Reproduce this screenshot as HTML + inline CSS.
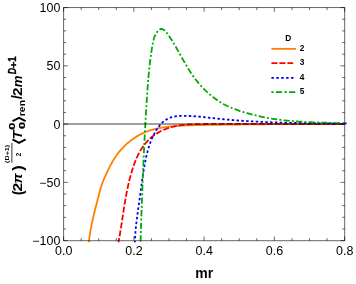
<!DOCTYPE html>
<html><head><meta charset="utf-8"><title>plot</title>
<style>
html,body{margin:0;padding:0;background:#fff;}
body{width:356px;height:284px;overflow:hidden;font-family:"Liberation Sans",sans-serif;}
svg{display:block;}
#w{width:356px;height:284px;will-change:transform;}
text{font-family:"Liberation Sans",sans-serif;fill:#000;}
</style></head><body>
<div id="w"><svg width="356" height="284" viewBox="0 0 356 284">
<rect x="0" y="0" width="356" height="284" fill="#ffffff"/>
<defs><clipPath id="cp"><rect x="63" y="6.5" width="282.0" height="235.8"/></clipPath></defs>

<g clip-path="url(#cp)" fill="none" stroke-width="1.8" stroke-linejoin="round">
<path d="M88.86 243.00 L88.96 241.98 L89.06 240.95 L89.17 239.93 L89.28 238.90 L89.41 237.88 L89.54 236.86 L89.68 235.83 L89.83 234.81 L89.98 233.78 L90.14 232.76 L90.31 231.73 L90.48 230.70 L90.66 229.68 L90.85 228.65 L91.04 227.63 L91.23 226.60 L91.43 225.58 L91.64 224.55 L91.85 223.53 L92.06 222.50 L92.28 221.48 L92.51 220.46 L92.73 219.43 L92.96 218.41 L93.20 217.39 L93.44 216.37 L93.68 215.35 L93.92 214.33 L94.17 213.31 L94.42 212.29 L94.67 211.27 L94.92 210.26 L95.18 209.24 L95.43 208.23 L95.69 207.21 L95.95 206.20 L96.21 205.19 L96.47 204.18 L96.73 203.17 L96.99 202.16 L97.26 201.15 L97.52 200.15 L97.78 199.14 L98.04 198.14 L98.30 197.14 L98.56 196.14 L98.82 195.14 L99.08 194.15 L99.34 193.15 L99.60 192.16 L99.87 191.17 L100.14 190.18 L100.41 189.19 L100.70 188.21 L100.99 187.23 L101.30 186.24 L101.62 185.27 L101.95 184.29 L102.29 183.31 L102.65 182.34 L103.02 181.37 L103.41 180.40 L103.80 179.44 L104.21 178.47 L104.62 177.51 L105.04 176.55 L105.47 175.60 L105.90 174.64 L106.34 173.69 L106.78 172.75 L107.23 171.80 L107.68 170.86 L108.13 169.92 L108.59 168.98 L109.06 168.05 L109.53 167.12 L110.00 166.20 L110.49 165.28 L110.98 164.37 L111.47 163.46 L111.98 162.56 L112.49 161.66 L113.01 160.77 L113.55 159.88 L114.09 159.01 L114.64 158.13 L115.20 157.27 L115.78 156.41 L116.36 155.56 L116.96 154.72 L117.57 153.88 L118.19 153.06 L118.82 152.24 L119.47 151.43 L120.14 150.63 L120.81 149.84 L121.51 149.06 L122.22 148.29 L122.94 147.53 L123.67 146.78 L124.42 146.04 L125.19 145.31 L125.96 144.59 L126.75 143.88 L127.54 143.19 L128.35 142.50 L129.17 141.83 L130.00 141.17 L130.84 140.53 L131.69 139.90 L132.54 139.28 L133.41 138.67 L134.28 138.08 L135.16 137.50 L136.04 136.93 L136.93 136.38 L137.83 135.85 L138.73 135.33 L139.64 134.83 L140.55 134.34 L141.47 133.87 L142.39 133.41 L143.32 132.97 L144.25 132.55 L145.19 132.15 L146.14 131.76 L147.08 131.39 L148.04 131.03 L148.99 130.70 L149.96 130.38 L150.92 130.07 L151.89 129.79 L152.87 129.52 L153.85 129.26 L154.83 129.02 L155.81 128.79 L156.80 128.57 L157.80 128.37 L158.80 128.17 L159.80 127.98 L160.80 127.81 L161.81 127.64 L162.82 127.47 L163.83 127.32 L164.85 127.17 L165.87 127.03 L166.89 126.90 L167.91 126.77 L168.94 126.65 L169.97 126.54 L171.00 126.43 L172.03 126.33 L173.07 126.23 L174.11 126.14 L175.14 126.06 L176.19 125.98 L177.23 125.90 L178.27 125.83 L179.32 125.77 L180.37 125.71 L181.42 125.65 L182.47 125.60 L183.52 125.55 L184.57 125.50 L185.62 125.46 L186.68 125.42 L187.73 125.38 L188.79 125.35 L189.84 125.31 L190.90 125.28 L191.95 125.26 L193.01 125.23 L194.07 125.21 L195.12 125.18 L196.18 125.16 L197.23 125.14 L198.29 125.12 L199.34 125.10 L200.40 125.08 L201.45 125.06 L202.50 125.04 L203.56 125.02 L204.61 125.00 L205.66 124.99 L206.71 124.97 L207.76 124.95 L208.81 124.93 L209.86 124.91 L210.91 124.90 L211.96 124.88 L213.01 124.86 L214.05 124.85 L215.10 124.83 L216.15 124.81 L217.19 124.80 L218.24 124.78 L219.28 124.76 L220.33 124.75 L221.37 124.73 L222.41 124.72 L223.46 124.70 L224.50 124.69 L225.54 124.67 L226.58 124.66 L227.62 124.64 L228.66 124.63 L229.71 124.61 L230.75 124.60 L231.79 124.59 L232.83 124.57 L233.86 124.56 L234.90 124.55 L235.94 124.53 L236.98 124.52 L238.02 124.51 L239.06 124.49 L240.09 124.48 L241.13 124.47 L242.17 124.46 L243.20 124.45 L244.24 124.43 L245.28 124.42 L246.31 124.41 L247.35 124.40 L248.38 124.39 L249.42 124.38 L250.45 124.37 L251.49 124.36 L252.52 124.35 L253.56 124.34 L254.59 124.33 L255.63 124.32 L256.66 124.31 L257.69 124.30 L258.73 124.29 L259.76 124.28 L260.80 124.27 L261.83 124.26 L262.86 124.25 L263.90 124.24 L264.93 124.23 L265.96 124.23 L266.99 124.22 L268.03 124.21 L269.06 124.20 L270.09 124.19 L271.13 124.19 L272.16 124.18 L273.19 124.17 L274.23 124.16 L275.26 124.16 L276.29 124.15 L277.33 124.14 L278.36 124.14 L279.39 124.13 L280.43 124.13 L281.46 124.12 L282.49 124.11 L283.53 124.11 L284.56 124.10 L285.59 124.10 L286.63 124.09 L287.66 124.09 L288.70 124.08 L289.73 124.08 L290.76 124.07 L291.80 124.07 L292.83 124.06 L293.87 124.06 L294.90 124.05 L295.94 124.05 L296.97 124.05 L298.01 124.04 L299.05 124.04 L300.08 124.04 L301.12 124.03 L302.16 124.03 L303.19 124.03 L304.23 124.02 L305.27 124.02 L306.30 124.02 L307.34 124.02 L308.38 124.01 L309.42 124.01 L310.46 124.01 L311.50 124.01 L312.54 124.01 L313.58 124.00 L314.62 124.00 L315.66 124.00 L316.70 124.00 L317.74 124.00 L318.78 124.00 L319.83 124.00 L320.87 124.00 L321.91 124.00 L322.96 124.00 L324.00 124.00 L325.04 124.00 L326.09 124.00 L327.13 124.00 L328.18 124.00 L329.23 124.00 L330.27 124.00 L331.32 124.00 L332.37 124.00 L333.42 124.00 L334.47 124.00 L335.52 124.00 L336.57 124.00 L337.62 124.00 L338.67 124.00 L339.72 124.01 L340.77 124.01 L341.82 124.01 L342.88 124.01 L343.93 124.01 L344.99 124.02 L346.04 124.02" stroke="#ff8000"/>
<path d="M118.34 242.97 L118.53 242.02 L118.71 241.07 L118.88 240.11 L119.06 239.16 L119.23 238.21 L119.40 237.25 L119.57 236.30 L119.73 235.34 L119.89 234.39 L120.05 233.43 L120.21 232.48 L120.37 231.52 L120.53 230.56 L120.68 229.61 L120.83 228.65 L120.98 227.69 L121.13 226.73 L121.28 225.78 L121.43 224.82 L121.58 223.86 L121.73 222.90 L121.87 221.94 L122.02 220.98 L122.16 220.02 L122.31 219.06 L122.45 218.10 L122.60 217.14 L122.74 216.18 L122.89 215.22 L123.03 214.26 L123.18 213.30 L123.33 212.34 L123.47 211.38 L123.62 210.42 L123.77 209.46 L123.92 208.50 L124.07 207.54 L124.23 206.58 L124.38 205.62 L124.54 204.67 L124.69 203.71 L124.85 202.75 L125.01 201.79 L125.18 200.83 L125.34 199.87 L125.51 198.91 L125.68 197.96 L125.85 197.00 L126.02 196.04 L126.20 195.08 L126.38 194.13 L126.56 193.17 L126.75 192.21 L126.94 191.26 L127.13 190.30 L127.33 189.35 L127.53 188.39 L127.73 187.44 L127.94 186.49 L128.15 185.53 L128.36 184.58 L128.58 183.63 L128.80 182.68 L129.03 181.73 L129.26 180.78 L129.50 179.83 L129.74 178.88 L129.99 177.93 L130.24 176.99 L130.49 176.04 L130.75 175.09 L131.02 174.15 L131.29 173.20 L131.57 172.26 L131.85 171.31 L132.14 170.37 L132.43 169.43 L132.73 168.49 L133.04 167.55 L133.35 166.61 L133.67 165.68 L134.00 164.75 L134.33 163.81 L134.67 162.89 L135.03 161.96 L135.38 161.05 L135.75 160.13 L136.13 159.22 L136.52 158.32 L136.91 157.42 L137.32 156.52 L137.74 155.64 L138.17 154.76 L138.61 153.88 L139.06 153.02 L139.52 152.16 L139.99 151.31 L140.48 150.47 L140.98 149.64 L141.49 148.82 L142.02 148.00 L142.56 147.20 L143.11 146.41 L143.68 145.63 L144.25 144.86 L144.85 144.10 L145.45 143.36 L146.07 142.62 L146.70 141.90 L147.35 141.20 L148.01 140.50 L148.68 139.82 L149.36 139.16 L150.06 138.51 L150.77 137.87 L151.49 137.26 L152.23 136.65 L152.98 136.07 L153.74 135.49 L154.51 134.94 L155.30 134.40 L156.09 133.87 L156.90 133.36 L157.72 132.87 L158.54 132.39 L159.38 131.93 L160.23 131.48 L161.08 131.05 L161.95 130.63 L162.82 130.23 L163.70 129.84 L164.59 129.47 L165.48 129.11 L166.39 128.76 L167.29 128.43 L168.21 128.12 L169.13 127.82 L170.06 127.53 L170.99 127.26 L171.92 127.00 L172.86 126.75 L173.81 126.52 L174.76 126.30 L175.71 126.10 L176.66 125.91 L177.62 125.73 L178.58 125.56 L179.54 125.41 L180.51 125.27 L181.47 125.14 L182.44 125.02 L183.41 124.91 L184.39 124.81 L185.36 124.72 L186.34 124.64 L187.31 124.57 L188.29 124.50 L189.27 124.44 L190.25 124.39 L191.23 124.34 L192.22 124.30 L193.20 124.26 L194.18 124.23 L195.17 124.20 L196.15 124.17 L197.13 124.15 L198.12 124.13 L199.10 124.11 L200.08 124.09 L201.07 124.08 L202.05 124.06 L203.03 124.04 L204.01 124.03 L205.00 124.01 L205.98 124.00 L206.96 123.98 L207.94 123.97 L208.92 123.96 L209.90 123.95 L210.88 123.94 L211.86 123.93 L212.84 123.92 L213.81 123.91 L214.79 123.90 L215.77 123.89 L216.75 123.88 L217.72 123.87 L218.70 123.87 L219.68 123.86 L220.65 123.86 L221.63 123.85 L222.60 123.84 L223.58 123.84 L224.55 123.84 L225.53 123.83 L226.50 123.83 L227.48 123.83 L228.45 123.82 L229.42 123.82 L230.40 123.82 L231.37 123.82 L232.34 123.82 L233.32 123.82 L234.29 123.82 L235.26 123.82 L236.23 123.82 L237.20 123.82 L238.18 123.82 L239.15 123.83 L240.12 123.83 L241.09 123.83 L242.06 123.83 L243.03 123.84 L244.00 123.84 L244.97 123.84 L245.94 123.85 L246.91 123.85 L247.88 123.85 L248.85 123.86 L249.82 123.86 L250.79 123.87 L251.76 123.87 L252.73 123.88 L253.70 123.89 L254.67 123.89 L255.63 123.90 L256.60 123.90 L257.57 123.91 L258.54 123.92 L259.51 123.92 L260.48 123.93 L261.44 123.94 L262.41 123.94 L263.38 123.95 L264.35 123.96 L265.32 123.96 L266.29 123.97 L267.25 123.98 L268.22 123.98 L269.19 123.99 L270.16 124.00 L271.12 124.01 L272.09 124.01 L273.06 124.02 L274.03 124.03 L275.00 124.04 L275.96 124.04 L276.93 124.05 L277.90 124.06 L278.87 124.07 L279.84 124.07 L280.80 124.08 L281.77 124.09 L282.74 124.09 L283.71 124.10 L284.68 124.11 L285.64 124.11 L286.61 124.12 L287.58 124.13 L288.55 124.13 L289.52 124.14 L290.49 124.15 L291.45 124.15 L292.42 124.16 L293.39 124.16 L294.36 124.17 L295.33 124.17 L296.30 124.18 L297.27 124.18 L298.24 124.19 L299.21 124.19 L300.18 124.20 L301.15 124.20 L302.12 124.20 L303.09 124.21 L304.06 124.21 L305.03 124.21 L306.00 124.21 L306.97 124.22 L307.94 124.22 L308.91 124.22 L309.89 124.22 L310.86 124.22 L311.83 124.22 L312.80 124.22 L313.77 124.22 L314.75 124.22 L315.72 124.22 L316.69 124.22 L317.67 124.21 L318.64 124.21 L319.61 124.21 L320.59 124.21 L321.56 124.20 L322.54 124.20 L323.51 124.19 L324.49 124.19 L325.46 124.18 L326.44 124.18 L327.42 124.17 L328.39 124.16 L329.37 124.16 L330.35 124.15 L331.32 124.14 L332.30 124.13 L333.28 124.12 L334.26 124.11 L335.24 124.10 L336.22 124.09 L337.19 124.08 L338.17 124.06 L339.15 124.05 L340.14 124.04 L341.12 124.02 L342.10 124.01 L343.08 123.99 L344.06 123.98 L345.04 123.96 L346.03 123.94" stroke="#ff0000" stroke-dasharray="6 2" stroke-dashoffset="1.16"/>
<path d="M134.88 243.02 L134.90 242.04 L134.93 241.06 L134.97 240.08 L135.01 239.10 L135.06 238.12 L135.11 237.14 L135.16 236.17 L135.23 235.19 L135.29 234.21 L135.36 233.24 L135.44 232.26 L135.52 231.29 L135.60 230.31 L135.69 229.34 L135.78 228.37 L135.88 227.39 L135.98 226.42 L136.08 225.45 L136.19 224.48 L136.29 223.51 L136.41 222.54 L136.52 221.57 L136.64 220.60 L136.76 219.63 L136.88 218.66 L137.00 217.69 L137.13 216.72 L137.26 215.75 L137.38 214.79 L137.52 213.82 L137.65 212.85 L137.78 211.89 L137.92 210.92 L138.05 209.95 L138.19 208.99 L138.32 208.02 L138.46 207.06 L138.60 206.10 L138.74 205.13 L138.88 204.17 L139.01 203.20 L139.15 202.24 L139.29 201.28 L139.43 200.32 L139.56 199.35 L139.70 198.39 L139.83 197.43 L139.97 196.47 L140.10 195.51 L140.23 194.54 L140.36 193.58 L140.49 192.62 L140.61 191.66 L140.74 190.70 L140.87 189.74 L140.99 188.78 L141.12 187.82 L141.25 186.86 L141.37 185.90 L141.50 184.94 L141.63 183.98 L141.76 183.02 L141.89 182.06 L142.02 181.10 L142.15 180.14 L142.28 179.18 L142.42 178.22 L142.56 177.27 L142.69 176.31 L142.84 175.35 L142.98 174.39 L143.13 173.43 L143.27 172.47 L143.43 171.51 L143.58 170.55 L143.74 169.59 L143.90 168.64 L144.07 167.68 L144.23 166.72 L144.41 165.76 L144.58 164.80 L144.76 163.84 L144.95 162.88 L145.14 161.92 L145.33 160.96 L145.53 160.00 L145.74 159.04 L145.95 158.08 L146.17 157.12 L146.39 156.16 L146.61 155.20 L146.85 154.24 L147.09 153.29 L147.34 152.33 L147.59 151.37 L147.85 150.41 L148.12 149.46 L148.40 148.51 L148.68 147.56 L148.98 146.61 L149.28 145.67 L149.60 144.73 L149.92 143.79 L150.25 142.86 L150.60 141.94 L150.95 141.01 L151.32 140.09 L151.69 139.18 L152.08 138.27 L152.48 137.37 L152.90 136.48 L153.32 135.59 L153.76 134.71 L154.21 133.84 L154.68 132.97 L155.16 132.11 L155.65 131.26 L156.16 130.42 L156.69 129.58 L157.23 128.76 L157.78 127.95 L158.35 127.16 L158.94 126.38 L159.54 125.62 L160.16 124.87 L160.80 124.16 L161.46 123.46 L162.13 122.79 L162.82 122.14 L163.53 121.53 L164.26 120.95 L165.01 120.39 L165.78 119.88 L166.57 119.40 L167.38 118.95 L168.20 118.54 L169.05 118.17 L169.91 117.82 L170.78 117.51 L171.67 117.23 L172.58 116.98 L173.50 116.76 L174.43 116.56 L175.37 116.39 L176.32 116.24 L177.28 116.12 L178.24 116.02 L179.22 115.93 L180.20 115.87 L181.18 115.82 L182.17 115.79 L183.16 115.78 L184.16 115.78 L185.16 115.79 L186.16 115.81 L187.16 115.85 L188.16 115.89 L189.16 115.94 L190.16 116.00 L191.15 116.06 L192.15 116.12 L193.14 116.19 L194.13 116.27 L195.12 116.34 L196.11 116.42 L197.09 116.51 L198.08 116.59 L199.06 116.68 L200.04 116.77 L201.02 116.87 L202.00 116.96 L202.98 117.06 L203.95 117.16 L204.93 117.26 L205.90 117.37 L206.87 117.47 L207.84 117.58 L208.81 117.68 L209.78 117.79 L210.75 117.89 L211.72 118.00 L212.69 118.11 L213.66 118.21 L214.62 118.32 L215.59 118.43 L216.56 118.53 L217.53 118.64 L218.49 118.74 L219.46 118.84 L220.43 118.94 L221.39 119.04 L222.36 119.14 L223.33 119.23 L224.30 119.32 L225.26 119.42 L226.23 119.51 L227.20 119.60 L228.17 119.68 L229.14 119.77 L230.11 119.85 L231.08 119.94 L232.05 120.02 L233.01 120.10 L233.98 120.18 L234.95 120.25 L235.92 120.33 L236.89 120.40 L237.86 120.48 L238.83 120.55 L239.80 120.62 L240.78 120.69 L241.75 120.75 L242.72 120.82 L243.69 120.89 L244.66 120.95 L245.63 121.01 L246.60 121.07 L247.57 121.13 L248.54 121.19 L249.52 121.25 L250.49 121.31 L251.46 121.36 L252.43 121.41 L253.40 121.47 L254.38 121.52 L255.35 121.57 L256.32 121.62 L257.30 121.67 L258.27 121.72 L259.24 121.76 L260.21 121.81 L261.19 121.85 L262.16 121.90 L263.13 121.94 L264.11 121.98 L265.08 122.02 L266.05 122.06 L267.03 122.10 L268.00 122.14 L268.98 122.18 L269.95 122.21 L270.92 122.25 L271.90 122.28 L272.87 122.32 L273.85 122.35 L274.82 122.38 L275.79 122.41 L276.77 122.44 L277.74 122.47 L278.72 122.50 L279.69 122.53 L280.67 122.56 L281.64 122.59 L282.62 122.61 L283.59 122.64 L284.57 122.67 L285.54 122.69 L286.52 122.72 L287.49 122.74 L288.47 122.76 L289.44 122.79 L290.42 122.81 L291.39 122.83 L292.37 122.85 L293.34 122.87 L294.32 122.89 L295.29 122.91 L296.27 122.93 L297.25 122.95 L298.22 122.97 L299.20 122.99 L300.17 123.00 L301.15 123.02 L302.12 123.04 L303.10 123.06 L304.07 123.07 L305.05 123.09 L306.02 123.11 L307.00 123.12 L307.98 123.14 L308.95 123.15 L309.93 123.17 L310.90 123.18 L311.88 123.20 L312.85 123.21 L313.83 123.23 L314.80 123.24 L315.78 123.26 L316.76 123.27 L317.73 123.28 L318.71 123.30 L319.68 123.31 L320.66 123.33 L321.63 123.34 L322.61 123.35 L323.58 123.37 L324.56 123.38 L325.53 123.40 L326.51 123.41 L327.48 123.43 L328.46 123.44 L329.43 123.46 L330.41 123.47 L331.38 123.49 L332.36 123.50 L333.33 123.52 L334.31 123.53 L335.28 123.55 L336.26 123.56 L337.23 123.58 L338.21 123.60 L339.18 123.61 L340.16 123.63 L341.13 123.65 L342.10 123.66 L343.08 123.68 L344.05 123.70 L345.03 123.72 L346.00 123.74" stroke="#0000ff" stroke-dasharray="2.5 2.3" stroke-dashoffset="0.17"/>
<path d="M140.51 243.00 L140.56 241.61 L140.60 240.23 L140.64 238.85 L140.69 237.46 L140.73 236.08 L140.78 234.69 L140.82 233.31 L140.86 231.92 L140.91 230.54 L140.95 229.15 L141.00 227.77 L141.04 226.38 L141.09 225.00 L141.13 223.61 L141.18 222.23 L141.23 220.84 L141.27 219.46 L141.32 218.07 L141.37 216.69 L141.41 215.30 L141.46 213.92 L141.51 212.53 L141.55 211.14 L141.60 209.76 L141.65 208.37 L141.70 206.99 L141.75 205.60 L141.80 204.22 L141.85 202.83 L141.90 201.45 L141.95 200.06 L142.00 198.68 L142.05 197.29 L142.10 195.91 L142.15 194.52 L142.20 193.14 L142.25 191.75 L142.31 190.36 L142.36 188.98 L142.41 187.59 L142.47 186.21 L142.52 184.82 L142.57 183.44 L142.63 182.05 L142.68 180.67 L142.74 179.28 L142.80 177.90 L142.85 176.51 L142.91 175.13 L142.97 173.74 L143.02 172.36 L143.08 170.97 L143.14 169.58 L143.20 168.20 L143.26 166.81 L143.32 165.43 L143.38 164.04 L143.44 162.66 L143.50 161.27 L143.56 159.89 L143.62 158.50 L143.69 157.12 L143.75 155.73 L143.81 154.35 L143.88 152.96 L143.94 151.58 L144.01 150.20 L144.07 148.81 L144.14 147.43 L144.21 146.04 L144.27 144.66 L144.34 143.27 L144.41 141.89 L144.48 140.50 L144.55 139.12 L144.62 137.73 L144.69 136.35 L144.76 134.97 L144.83 133.58 L144.91 132.20 L144.98 130.81 L145.05 129.43 L145.13 128.05 L145.20 126.66 L145.28 125.28 L145.35 123.89 L145.43 122.51 L145.51 121.13 L145.59 119.74 L145.67 118.36 L145.75 116.98 L145.83 115.59 L145.91 114.21 L145.99 112.83 L146.07 111.44 L146.15 110.06 L146.24 108.68 L146.32 107.29 L146.41 105.91 L146.49 104.53 L146.58 103.15 L146.67 101.76 L146.75 100.38 L146.84 99.00 L146.93 97.62 L147.02 96.23 L147.11 94.85 L147.21 93.47 L147.30 92.09 L147.40 90.71 L147.49 89.33 L147.59 87.94 L147.70 86.56 L147.80 85.18 L147.91 83.80 L148.01 82.42 L148.13 81.04 L148.24 79.66 L148.36 78.28 L148.48 76.90 L148.60 75.52 L148.73 74.14 L148.86 72.76 L148.99 71.38 L149.13 70.00 L149.27 68.62 L149.42 67.25 L149.57 65.87 L149.72 64.49 L149.88 63.11 L150.04 61.74 L150.21 60.36 L150.39 58.98 L150.57 57.61 L150.75 56.23 L150.94 54.86 L151.14 53.48 L151.34 52.11 L151.54 50.73 L151.76 49.36 L151.98 47.98 L152.20 46.61 L152.43 45.24 L152.68 43.86 L152.94 42.49 L153.23 41.13 L153.57 39.77 L153.96 38.42 L154.42 37.08 L154.96 35.75 L155.59 34.44 L156.33 33.14 L157.17 31.88 L158.10 30.74 L159.10 29.80 L160.16 29.15 L161.24 28.89 L162.33 29.07 L163.41 29.62 L164.47 30.43 L165.47 31.39 L166.40 32.42 L167.29 33.51 L168.13 34.64 L168.94 35.79 L169.73 36.96 L170.50 38.14 L171.26 39.32 L172.01 40.51 L172.75 41.71 L173.48 42.91 L174.20 44.11 L174.91 45.32 L175.61 46.52 L176.31 47.74 L177.00 48.95 L177.69 50.16 L178.37 51.38 L179.05 52.60 L179.72 53.81 L180.40 55.03 L181.08 56.24 L181.75 57.46 L182.43 58.67 L183.11 59.88 L183.79 61.09 L184.48 62.30 L185.17 63.50 L185.87 64.70 L186.57 65.89 L187.28 67.08 L188.00 68.26 L188.73 69.44 L189.47 70.61 L190.22 71.78 L190.98 72.94 L191.75 74.09 L192.54 75.23 L193.34 76.36 L194.16 77.49 L194.99 78.60 L195.84 79.71 L196.70 80.80 L197.57 81.89 L198.46 82.96 L199.37 84.02 L200.28 85.07 L201.21 86.11 L202.16 87.13 L203.12 88.14 L204.09 89.14 L205.07 90.12 L206.07 91.09 L207.08 92.04 L208.11 92.98 L209.15 93.90 L210.20 94.80 L211.26 95.69 L212.34 96.56 L213.43 97.41 L214.53 98.24 L215.64 99.05 L216.77 99.85 L217.91 100.62 L219.06 101.38 L220.22 102.11 L221.39 102.82 L222.58 103.51 L223.77 104.18 L224.98 104.82 L226.20 105.45 L227.43 106.05 L228.68 106.62 L229.93 107.18 L231.19 107.72 L232.46 108.24 L233.74 108.75 L235.03 109.23 L236.32 109.71 L237.63 110.17 L238.94 110.61 L240.25 111.04 L241.58 111.46 L242.91 111.88 L244.24 112.28 L245.58 112.67 L246.93 113.06 L248.28 113.44 L249.63 113.81 L250.98 114.18 L252.34 114.54 L253.70 114.90 L255.07 115.24 L256.43 115.58 L257.80 115.90 L259.17 116.22 L260.53 116.53 L261.90 116.82 L263.27 117.11 L264.63 117.38 L266.00 117.65 L267.37 117.91 L268.74 118.15 L270.10 118.39 L271.47 118.62 L272.84 118.84 L274.21 119.05 L275.58 119.25 L276.94 119.44 L278.31 119.63 L279.68 119.81 L281.05 119.98 L282.42 120.14 L283.79 120.30 L285.16 120.45 L286.53 120.59 L287.90 120.72 L289.27 120.85 L290.65 120.98 L292.02 121.09 L293.39 121.21 L294.76 121.31 L296.14 121.41 L297.51 121.51 L298.88 121.60 L300.26 121.69 L301.63 121.77 L303.01 121.85 L304.39 121.92 L305.76 121.99 L307.14 122.06 L308.52 122.12 L309.90 122.19 L311.28 122.24 L312.66 122.30 L314.04 122.35 L315.42 122.40 L316.80 122.45 L318.18 122.50 L319.57 122.54 L320.95 122.59 L322.34 122.63 L323.72 122.67 L325.11 122.71 L326.49 122.76 L327.88 122.80 L329.27 122.84 L330.66 122.88 L332.05 122.92 L333.44 122.96 L334.84 123.00 L336.23 123.05 L337.62 123.09 L339.02 123.14 L340.41 123.19 L341.81 123.24 L343.21 123.29 L344.61 123.34 L346.01 123.40" stroke="#00aa00" stroke-dasharray="6.2 2.2 2 2.2" stroke-dashoffset="11.05"/>
</g>
<line x1="63.5" y1="123.9" x2="344.5" y2="123.9" stroke="#000" stroke-opacity="0.5" stroke-width="1.5"/>
<rect x="344.8" y="122.5" width="1.8" height="1.8" fill="#0000ff"/>
<g stroke="#000" stroke-opacity="0.6" stroke-width="1" fill="none">
<rect x="63.6" y="7.55" width="281.1" height="233.15" stroke-width="1"/>
<path d="M63.60 240.7v-4.2M63.60 7.55v4.2M81.16 240.7v-2.5M81.16 7.55v2.5M98.72 240.7v-2.5M98.72 7.55v2.5M116.29 240.7v-2.5M116.29 7.55v2.5M133.85 240.7v-4.2M133.85 7.55v4.2M151.41 240.7v-2.5M151.41 7.55v2.5M168.97 240.7v-2.5M168.97 7.55v2.5M186.54 240.7v-2.5M186.54 7.55v2.5M204.10 240.7v-4.2M204.10 7.55v4.2M221.66 240.7v-2.5M221.66 7.55v2.5M239.22 240.7v-2.5M239.22 7.55v2.5M256.79 240.7v-2.5M256.79 7.55v2.5M274.35 240.7v-4.2M274.35 7.55v4.2M291.91 240.7v-2.5M291.91 7.55v2.5M309.48 240.7v-2.5M309.48 7.55v2.5M327.04 240.7v-2.5M327.04 7.55v2.5M344.60 240.7v-4.2M344.60 7.55v4.2M63.6 240.60h4.2M344.7 240.60h-4.2M63.6 228.95h2.5M344.7 228.95h-2.5M63.6 217.30h2.5M344.7 217.30h-2.5M63.6 205.65h2.5M344.7 205.65h-2.5M63.6 194.00h2.5M344.7 194.00h-2.5M63.6 182.35h4.2M344.7 182.35h-4.2M63.6 170.70h2.5M344.7 170.70h-2.5M63.6 159.05h2.5M344.7 159.05h-2.5M63.6 147.40h2.5M344.7 147.40h-2.5M63.6 135.75h2.5M344.7 135.75h-2.5M63.6 124.10h4.2M344.7 124.10h-4.2M63.6 112.45h2.5M344.7 112.45h-2.5M63.6 100.80h2.5M344.7 100.80h-2.5M63.6 89.15h2.5M344.7 89.15h-2.5M63.6 77.50h2.5M344.7 77.50h-2.5M63.6 65.85h4.2M344.7 65.85h-4.2M63.6 54.20h2.5M344.7 54.20h-2.5M63.6 42.55h2.5M344.7 42.55h-2.5M63.6 30.90h2.5M344.7 30.90h-2.5M63.6 19.25h2.5M344.7 19.25h-2.5M63.6 7.60h4.2M344.7 7.60h-4.2" stroke-width="1"/>
</g>
<g font-size="12px">
<text transform="translate(60.4,12.00) scale(1.04,1)" text-anchor="end">100</text>
<text transform="translate(60.4,70.25) scale(1.04,1)" text-anchor="end">50</text>
<text transform="translate(60.4,128.50) scale(1.04,1)" text-anchor="end">0</text>
<text transform="translate(60.4,186.75) scale(1.04,1)" text-anchor="end">−50</text>
<text transform="translate(60.4,245.00) scale(1.04,1)" text-anchor="end">−100</text>
<text transform="translate(63.70,254.8) scale(1.04,1)" text-anchor="middle">0.0</text>
<text transform="translate(133.95,254.8) scale(1.04,1)" text-anchor="middle">0.2</text>
<text transform="translate(204.20,254.8) scale(1.04,1)" text-anchor="middle">0.4</text>
<text transform="translate(274.45,254.8) scale(1.04,1)" text-anchor="middle">0.6</text>
<text transform="translate(344.70,254.8) scale(1.04,1)" text-anchor="middle">0.8</text>
</g>
<text x="204.2" y="277.7" text-anchor="middle" font-size="14px" font-weight="bold">mr</text>
<g id="ylabel">
<text transform="translate(22.98,195.27) rotate(-90) scale(1.032,1.085)" font-size="14px" font-weight="bold">(</text>
<text transform="translate(22.10,191.56) rotate(-90) scale(1.126,0.964)" font-size="14px" font-weight="bold">2</text>
<text transform="translate(21.99,183.51) rotate(-90) scale(1.029,0.893)" font-size="14px" font-weight="bold" font-style="italic">π</text>
<text transform="translate(22.98,170.70) rotate(-90) scale(1.175,1.085)" font-size="14px" font-weight="bold">)</text>
<text transform="translate(9.32,162.91) rotate(-90) scale(1.105,0.784)" font-size="6.5px" font-weight="bold">(D+1)</text>
<text transform="translate(21.10,156.34) rotate(-90) scale(0.960,1.067)" font-size="6.5px" font-weight="bold">2</text>
<text transform="translate(22.10,139.57) rotate(-90) scale(1.071,0.977)" font-size="14px" font-weight="bold" font-style="italic">T</text>
<text transform="translate(15.09,129.71) rotate(-90) scale(1.356,0.919)" font-size="9.5px" font-weight="bold" stroke="#000" stroke-width="0.25">0</text>
<text transform="translate(24.89,129.01) rotate(-90) scale(1.356,0.919)" font-size="9.5px" font-weight="bold" stroke="#000" stroke-width="0.25">0</text>
<text transform="translate(24.68,116.19) rotate(-90) scale(1.096,0.952)" font-size="9.5px" font-weight="bold">ren</text>
<text transform="translate(22.44,99.20) rotate(-90) scale(1.050,1.031)" font-size="14px" font-weight="bold">/</text>
<text transform="translate(22.10,95.95) rotate(-90) scale(1.096,0.964)" font-size="14px" font-weight="bold">2</text>
<text transform="translate(22.10,87.34) rotate(-90) scale(0.946,0.947)" font-size="14px" font-weight="bold" font-style="italic">m</text>
<text transform="translate(16.30,74.32) rotate(-90) scale(0.875,1.047)" font-size="10px" font-weight="bold" font-style="italic" stroke="#000" stroke-width="0.35">D</text>
<text transform="translate(17.02,68.24) rotate(-90) scale(1.160,0.956)" font-size="10px" font-weight="bold" stroke="#000" stroke-width="0.35">+</text>
<text transform="translate(16.30,61.69) rotate(-90) scale(0.951,1.047)" font-size="10px" font-weight="bold" stroke="#000" stroke-width="0.35">1</text>
<path d="M11.9 143V162.8" stroke="#000" stroke-width="0.8" fill="none"/>
<path d="M12.5 139.3L19.05 142.8L25.6 139.3" stroke="#000" stroke-width="1.9" fill="none" stroke-linejoin="miter"/>
<path d="M12.5 121.2L19.05 117.8L25.6 121.2" stroke="#000" stroke-width="1.9" fill="none" stroke-linejoin="miter"/>
</g>
<g font-weight="bold" font-size="8.3px">
<text x="288.25" y="40.6" text-anchor="middle">D</text>
<path d="M271.4 48.85H295.9" stroke="#ff8000" stroke-width="1.8" fill="none"/>
<text x="299.7" y="50.85">2</text>
<path d="M271.4 63.20H293.2" stroke="#ff0000" stroke-width="1.8" fill="none" stroke-dasharray="6.1 1.9"/>
<text x="299.7" y="65.20">3</text>
<path d="M271.4 77.80H294.5" stroke="#0000ff" stroke-width="1.8" fill="none" stroke-dasharray="2.5 2.4"/>
<text x="299.7" y="79.80">4</text>
<path d="M271.4 92.20H295.9" stroke="#00aa00" stroke-width="1.8" fill="none" stroke-dasharray="2.2 2.3 6.2 2.5"/>
<text x="299.7" y="94.20">5</text>
</g>
</svg></div></body></html>
